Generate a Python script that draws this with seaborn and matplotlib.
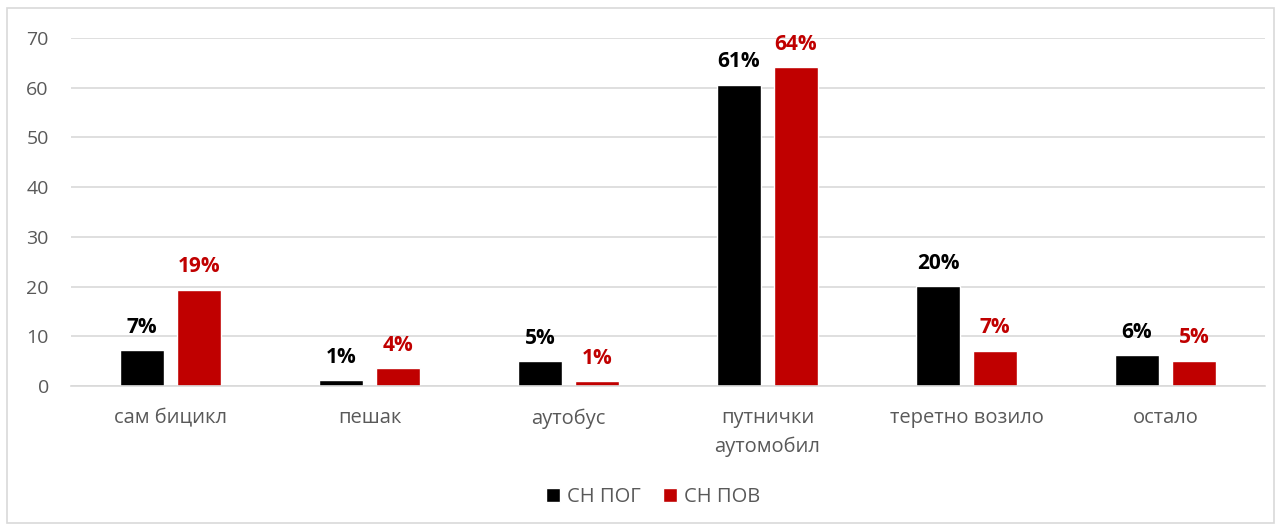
import matplotlib
matplotlib.use('Agg')
from matplotlib import pyplot as plt
from matplotlib.patches import Rectangle
import pandas as pd
import seaborn as sns

categories = ['сам бицикл', 'пешак', 'аутобус', 'путнички\nаутомобил', 'теретно возило', 'остало']
series_names = ['СН ПОГ', 'СН ПОВ']
pog_values = [7.2, 1.2, 5.0, 60.6, 20.1, 6.2]
pov_values = [19.4, 3.6, 1.0, 64.1, 7.1, 5.1]
pog_labels = ['7%', '1%', '5%', '61%', '20%', '6%']
pov_labels = ['19%', '4%', '1%', '64%', '7%', '5%']
y_ticks = [0, 10, 20, 30, 40, 50, 60, 70]

colors = ['#000000', '#C00000']
text_gray = '#595959'
grid_gray = '#D9D9D9'

sns.set_style('white')
plt.rcParams['font.family'] = ['Open Sans', 'DejaVu Sans']

df = pd.DataFrame({
    'category': categories * 2,
    'value': pog_values + pov_values,
    'series': [series_names[0]] * len(categories) + [series_names[1]] * len(categories),
})

W, H = 1282, 531
fig = plt.figure(figsize=(W / 100, H / 100), dpi=100)
fig.patches.append(Rectangle((7 / W, 8 / H), 1267 / W, 515 / H, transform=fig.transFigure,
                             fill=False, edgecolor=grid_gray, linewidth=1.2))

ax = fig.add_axes([71 / W, (H - 386) / H, (1265 - 71) / W, (386 - 38) / H])
sns.barplot(data=df, x='category', y='value', hue='series', palette=colors,
            width=0.573, gap=0.228, ax=ax, legend=False, saturation=1)

ax.set_ylim(0, 70)
ax.set_xlim(-0.5, len(categories) - 0.5)
ax.set_yticks(y_ticks)
ax.yaxis.grid(True, color=grid_gray, linewidth=1.2)
ax.set_axisbelow(True)
for s in ['top', 'right', 'left']:
    ax.spines[s].set_visible(False)
ax.spines['bottom'].set_color(grid_gray)
ax.spines['bottom'].set_linewidth(1.2)
ax.tick_params(axis='both', length=0, labelsize=14, labelcolor=text_gray)
ax.tick_params(axis='x', pad=16, labelsize=14.5)
ax.tick_params(axis='y', pad=16)
for t in ax.get_xticklabels():
    t.set_linespacing(1.55)
ax.set_xlabel('')
ax.set_ylabel('')

for container, labels, c in zip(ax.containers, [pog_labels, pov_labels], colors):
    ax.bar_label(container, labels=labels, padding=9, color=c,
                 fontsize=15, fontweight='bold')

handles = [Rectangle((0, 0), 1, 1, facecolor=c) for c in colors]
leg = fig.legend(handles, series_names, loc='center', bbox_to_anchor=(653 / W, (H - 497) / H),
                 ncol=2, frameon=False, fontsize=14.5, handlelength=0.7, handleheight=0.7,
                 handletextpad=0.35, columnspacing=1.1)
for t in leg.get_texts():
    t.set_color(text_gray)

fig.savefig('out.png', dpi=100)
plt.close(fig)
